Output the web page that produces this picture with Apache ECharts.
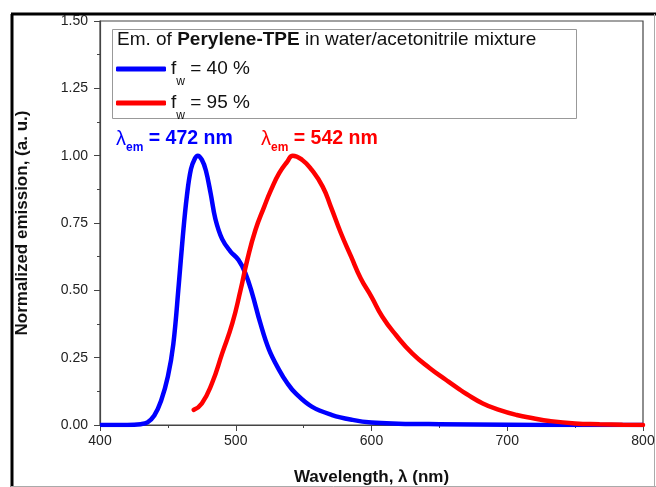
<!DOCTYPE html>
<html>
<head>
<meta charset="utf-8">
<script src="https://cdn.jsdelivr.net/npm/echarts@6/dist/echarts.min.js"></script>
<style>
  html, body { margin: 0; padding: 0; background: #fff; }
  #chart { width: 656px; height: 487px; }
</style>
</head>
<body>
<div id="chart"></div>
<script>
// f_w = 40 % (blue)
const wlLow = [400, 420, 430, 435, 440, 445, 450, 454, 458, 461, 464, 467, 470, 472, 475, 478, 481.5, 485, 490, 496, 502, 507, 512, 518, 524.5, 532, 538, 544, 556, 571, 586, 600, 620, 650, 700, 750, 800]
const emLow = [0, 0, 0.003, 0.01, 0.035, 0.09, 0.18, 0.3, 0.52, 0.7, 0.85, 0.95, 0.99, 1.0, 0.985, 0.945, 0.86, 0.765, 0.69, 0.645, 0.613, 0.565, 0.49, 0.38, 0.28, 0.204, 0.155, 0.118, 0.068, 0.037, 0.019, 0.009, 0.005, 0.003, 0.001, 0, 0]

// f_w = 95 % (red)
const wlHigh = [469, 475, 482.5, 490, 497.5, 503.5, 508.5, 514.5, 521, 526, 532, 538, 542, 549, 556, 564, 570, 577.5, 585, 592, 600, 608, 618, 630, 643, 655, 664, 670, 682, 694, 707, 719, 731, 750, 768, 785, 800]
const emHigh = [0.056, 0.08, 0.155, 0.266, 0.378, 0.5, 0.613, 0.724, 0.811, 0.873, 0.935, 0.978, 1.0, 0.984, 0.947, 0.885, 0.811, 0.712, 0.625, 0.545, 0.476, 0.402, 0.334, 0.266, 0.211, 0.167, 0.135, 0.115, 0.08, 0.056, 0.037, 0.025, 0.015, 0.006, 0.003, 0.001, 0]

const seriesNames = ['f_w = 40 %', 'f_w = 95 %']
const peakLabels = ['472 nm', '542 nm']

const font = 'Arial, "Liberation Sans", sans-serif'
const zip = (xs, ys) => xs.map((x, i) => [x, ys[i]])

// legend text with subscript w
const legendRich = {
  f: { fontSize: 19, lineHeight: 36, color: '#111', fontFamily: font },
  w: { fontSize: 12, lineHeight: 12, padding: [26, 0, 0, 0], color: '#111', fontFamily: font },
  t: { fontSize: 19, lineHeight: 36, color: '#111', fontFamily: font }
}

function peakText(label, color) {
  return {
    text: '{l|λ}{s|em}{t| = ' + label + '}',
    rich: {
      l: { fontSize: 20, lineHeight: 30, fill: color, fontFamily: font },
      s: { fontSize: 12, lineHeight: 12, padding: [18, 0, 0, 0], fill: color, fontWeight: 'bold', fontFamily: font },
      t: { fontSize: 19.5, lineHeight: 30, fill: color, fontWeight: 'bold', fontFamily: font }
    },
    verticalAlign: 'middle'
  }
}

const chart = echarts.init(document.getElementById('chart'))
chart.setOption({
  animation: false,
  backgroundColor: '#fff',
  grid: {
    left: 100, right: 13, top: 21, bottom: 62, outerBoundsMode: 'none',
    show: true, borderColor: '#444', borderWidth: 1.2
  },
  xAxis: {
    type: 'value', min: 400, max: 800, interval: 100,
    name: 'Wavelength, λ (nm)', nameLocation: 'middle', nameGap: 44,
    nameTextStyle: { fontSize: 17, fontWeight: 'bold', color: '#111', fontFamily: font },
    axisLine: { lineStyle: { color: '#444', width: 1.2 } },
    axisTick: { inside: false, length: 6, lineStyle: { color: '#444' } },
    minorTick: { show: true, splitNumber: 2, length: 3, lineStyle: { color: '#444' } },
    splitLine: { show: false },
    axisLabel: { fontSize: 14, color: '#222', margin: 9, fontFamily: font }
  },
  yAxis: {
    type: 'value', min: 0, max: 1.5, interval: 0.25,
    name: 'Normalized emission, (a. u.)', nameLocation: 'middle', nameGap: 69,
    nameTextStyle: { fontSize: 17, fontWeight: 'bold', color: '#111', fontFamily: font },
    axisLine: { lineStyle: { color: '#444', width: 1.2 } },
    axisTick: { inside: false, length: 6, lineStyle: { color: '#444' } },
    minorTick: { show: true, splitNumber: 2, length: 3, lineStyle: { color: '#444' } },
    splitLine: { show: false },
    axisLabel: { fontSize: 14, color: '#222', margin: 12, fontFamily: font, formatter: v => v.toFixed(2) }
  },
  legend: {
    left: 116, top: 50, orient: 'vertical', padding: 0,
    itemWidth: 50, itemHeight: 5, itemGap: -4, icon: 'roundRect',
    data: seriesNames,
    formatter: name => name === seriesNames[0] ? '{f|f}{w|w}{t| = 40 %}' : '{f|f}{w|w}{t| = 95 %}',
    textStyle: { rich: legendRich }
  },
  graphic: [
    // outer frame
    { type: 'line', shape: { x1: 11, y1: 14, x2: 656, y2: 14 }, style: { stroke: '#000', lineWidth: 3 } },
    { type: 'line', shape: { x1: 12, y1: 14, x2: 12, y2: 487 }, style: { stroke: '#000', lineWidth: 3 } },
    { type: 'line', shape: { x1: 654.5, y1: 14, x2: 654.5, y2: 487 }, style: { stroke: '#aaa', lineWidth: 1 } },
    { type: 'line', shape: { x1: 11, y1: 486.5, x2: 656, y2: 486.5 }, style: { stroke: '#aaa', lineWidth: 1 } },
    // legend box and title
    { type: 'rect', shape: { x: 112.5, y: 29.5, width: 464, height: 89 }, style: { fill: '#fff', stroke: '#999', lineWidth: 1 }, z: 0 },
    {
      type: 'text', left: 117, top: 30, z: 10,
      style: {
        text: '{n|Em. of }{b|Perylene-TPE}{n| in water/acetonitrile mixture}',
        rich: {
          n: { fontSize: 19, fill: '#111', fontFamily: font },
          b: { fontSize: 19, fill: '#111', fontWeight: 'bold', fontFamily: font }
        }
      }
    },
    // peak labels
    { type: 'text', left: 116, top: 124, z: 10, style: peakText(peakLabels[0], '#0000ff') },
    { type: 'text', left: 261, top: 124, z: 10, style: peakText(peakLabels[1], '#ff0000') }
  ],
  series: [
    {
      name: seriesNames[0], type: 'line', data: zip(wlLow, emLow),
      smooth: 0.4, showSymbol: false, symbol: 'none',
      itemStyle: { color: '#0000ff' },
      lineStyle: { color: '#0000ff', width: 4.5 }, z: 3
    },
    {
      name: seriesNames[1], type: 'line', data: zip(wlHigh, emHigh),
      smooth: 0.5, showSymbol: false, symbol: 'none',
      itemStyle: { color: '#ff0000' },
      lineStyle: { color: '#ff0000', width: 4.5, cap: 'round' }, z: 4
    }
  ]
})
</script>
</body>
</html>
